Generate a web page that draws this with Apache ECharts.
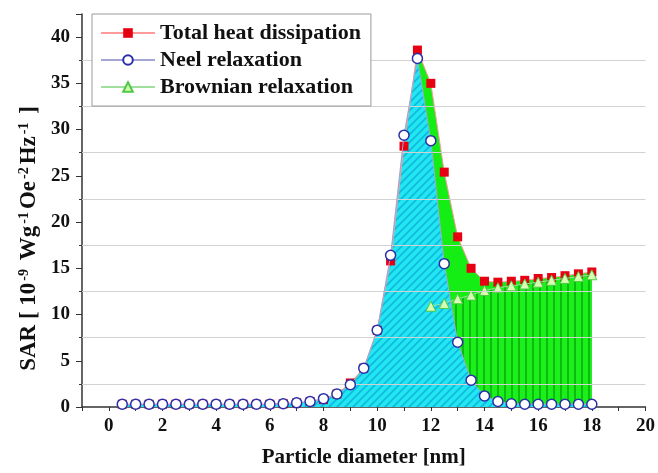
<!DOCTYPE html>
<html>
<head>
<meta charset="utf-8">
<script src="https://cdn.jsdelivr.net/npm/echarts@6/dist/echarts.min.js"></script>
<style>
  html, body { margin: 0; padding: 0; background: #fff; }
  #chart { width: 658px; height: 473px; }
</style>
</head>
<body>
<div id="chart"></div>
<script>
// Particle diameters (nm) for the Neel and total curves
const diameters = [0.5, 1, 1.5, 2, 2.5, 3, 3.5, 4, 4.5, 5, 5.5, 6, 6.5, 7, 7.5, 8, 8.5, 9,
  9.5, 10, 10.5, 11, 11.5, 12, 12.5, 13, 13.5, 14, 14.5, 15, 15.5, 16, 16.5, 17, 17.5, 18];
// Neel relaxation SAR
const neelSAR = [0.3, 0.3, 0.3, 0.3, 0.3, 0.3, 0.3, 0.3, 0.3, 0.3, 0.3, 0.3, 0.35, 0.45, 0.6, 0.9, 1.4, 2.4,
  4.2, 8.3, 16.4, 29.4, 37.7, 28.8, 15.5, 7.0, 2.9, 1.2, 0.6, 0.35, 0.3, 0.3, 0.3, 0.3, 0.3, 0.3];
// Total heat dissipation SAR
const totalSAR = [0.3, 0.3, 0.3, 0.3, 0.3, 0.3, 0.3, 0.3, 0.3, 0.3, 0.3, 0.3, 0.35, 0.45, 0.6, 0.8, 1.4, 2.6,
  4.2, 8.3, 15.8, 28.2, 38.6, 35.0, 25.4, 18.4, 15.0, 13.6, 13.5, 13.6, 13.7, 13.9, 14.0, 14.2, 14.4, 14.6];
// Brownian relaxation SAR (larger particles only)
const brownDiameters = [12, 12.5, 13, 13.5, 14, 14.5, 15, 15.5, 16, 16.5, 17, 17.5, 18];
const brownSAR = [10.9, 11.2, 11.7, 12.1, 12.6, 12.9, 13.1, 13.3, 13.5, 13.7, 13.9, 14.1, 14.3];
// Horizontal reference lines
const gridLevels = [2.5, 7.5, 12.5, 17.5, 22.5, 27.5, 32.5, 37.5];

const seriesNames = ['Total heat dissipation', 'Neel relaxation', 'Brownian relaxation'];
const serif = '"Liberation Serif", "Times New Roman", serif';

function pairs(xs, ys) { return xs.map((x, i) => [x, ys[i]]); }

// Diagonal hatch for the Neel area
function hatchPattern() {
  const c = document.createElement('canvas');
  c.width = 8; c.height = 8;
  const g = c.getContext('2d');
  g.fillStyle = '#22e6f2';
  g.fillRect(0, 0, 8, 8);
  g.strokeStyle = '#0fb9dc';
  g.lineWidth = 1.6;
  g.beginPath();
  g.moveTo(0, 8); g.lineTo(8, 0);
  g.moveTo(-4, 4); g.lineTo(4, -4);
  g.moveTo(4, 12); g.lineTo(12, 4);
  g.stroke();
  return c;
}
// Vertical stripes for the Brownian area
function stripePattern() {
  const c = document.createElement('canvas');
  c.width = 7; c.height = 4;
  const g = c.getContext('2d');
  g.fillStyle = '#1cf01c';
  g.fillRect(0, 0, 7, 4);
  g.fillStyle = '#0cbc0c';
  g.fillRect(0, 0, 2, 4);
  return c;
}

const chart = echarts.init(document.getElementById('chart'), null, { renderer: 'canvas' });

const option = {
  animation: false,
  backgroundColor: '#ffffff',
  grid: { left: 82, right: 11, top: 14, bottom: 64, containLabel: false },
  legend: {
    data: seriesNames,
    orient: 'vertical',
    left: 92, top: 14, z: 20,
    padding: [8, 10, 8, 8],
    itemWidth: 54, itemHeight: 12, itemGap: 5,
    borderColor: '#9a9a9a', borderWidth: 1,
    backgroundColor: '#ffffff',
    textStyle: { fontFamily: serif, fontWeight: 'bold', fontSize: 22, color: '#111' }
  },
  xAxis: {
    type: 'value', min: -1, max: 20, interval: 1,
    name: 'Particle diameter [nm]', nameLocation: 'middle', nameGap: 40,
    nameTextStyle: { fontFamily: serif, fontWeight: 'bold', fontSize: 21, color: '#111' },
    axisLine: { show: true, onZero: false, lineStyle: { color: '#333', width: 1.5 } },
    axisTick: { show: true, length: 4, lineStyle: { color: '#333' } },
    axisLabel: {
      margin: 10, fontFamily: serif, fontWeight: 'bold', fontSize: 19, color: '#111',
      formatter: v => (v >= 0 && v % 2 === 0) ? String(v) : ''
    },
    splitLine: { show: false }
  },
  yAxis: {
    type: 'value', min: 0, max: 42.5, interval: 5,
    name: '{b|SAR [ 10}{s|-9}{b| Wg}{s|-1}{b|Oe}{s|-2}{b|Hz}{s|-1}{b| ]}',
    nameLocation: 'middle', nameGap: 41,
    nameTextStyle: {
      padding: [0, 56, 0, 0],
      rich: {
        b: { fontFamily: serif, fontWeight: 'bold', fontSize: 23, color: '#111', lineHeight: 23, verticalAlign: 'bottom' },
        s: { fontFamily: serif, fontWeight: 'bold', fontSize: 14, color: '#111', lineHeight: 14, verticalAlign: 'top', padding: [0, 3, 0, 2] }
      }
    },
    axisLine: { show: true, onZero: false, lineStyle: { color: '#333', width: 1.5 } },
    axisTick: { show: true, length: 6, lineStyle: { color: '#333' } },
    minorTick: { show: true, splitNumber: 2, length: 3, lineStyle: { color: '#333' } },
    axisLabel: {
      margin: 12, fontFamily: serif, fontWeight: 'bold', fontSize: 19, color: '#111',
      formatter: v => (v % 5 === 0) ? String(v) : ''
    },
    splitLine: { show: false }
  },
  series: [
    {
      type: 'line', data: [], z: 1, silent: true,
      markLine: {
        silent: true, symbol: 'none', label: { show: false },
        lineStyle: { color: '#d2d2d2', width: 1, type: 'solid' },
        data: gridLevels.map(v => ({ yAxis: v }))
      }
    },
    {
      type: 'line', data: pairs(diameters, totalSAR), z: 2, silent: true,
      symbol: 'none', lineStyle: { width: 0 },
      areaStyle: { color: '#14ee14', opacity: 1 }
    },
    {
      type: 'line', data: pairs(brownDiameters, brownSAR), z: 2, silent: true,
      symbol: 'none', lineStyle: { width: 0 },
      areaStyle: { color: { image: stripePattern(), repeat: 'repeat' }, opacity: 1 }
    },
    {
      type: 'line', data: pairs(diameters, neelSAR), z: 2, silent: true,
      symbol: 'none', lineStyle: { width: 0 },
      areaStyle: { color: { image: hatchPattern(), repeat: 'repeat' }, opacity: 1 }
    },
    {
      name: seriesNames[0], type: 'line', data: pairs(diameters, totalSAR), z: 3,
      symbol: 'rect', symbolSize: 9,
      itemStyle: { color: '#e60012' },
      lineStyle: { color: '#ff9a9a', width: 1 }
    },
    {
      name: seriesNames[2], type: 'line', data: pairs(brownDiameters, brownSAR), z: 4,
      symbol: 'triangle', symbolSize: 10,
      itemStyle: { color: '#d6ffb4', borderColor: '#4fc844', borderWidth: 1 },
      lineStyle: { color: '#9fe09f', width: 1 }
    },
    {
      name: seriesNames[1], type: 'line', data: pairs(diameters, neelSAR), z: 5,
      symbol: 'circle', symbolSize: 10,
      itemStyle: { color: '#ffffff', borderColor: '#2b2fa8', borderWidth: 1.5 },
      lineStyle: { color: '#a6a6d6', width: 1 }
    }
  ]
};

chart.setOption(option);
</script>
</body>
</html>
